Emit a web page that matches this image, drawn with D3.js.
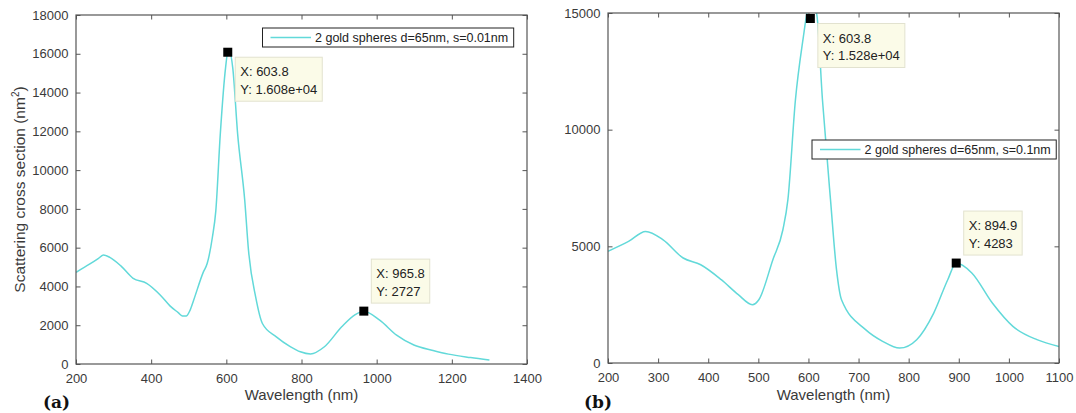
<!DOCTYPE html>
<html>
    <head>
        <meta charset="utf-8" />
        <title>Scattering cross section</title>
        <script src="https://d3js.org/d3.v7.min.js"></script>
        <style>
            body {
                margin: 0px;
                background: white;
            }
            text {
                font-family: "Liberation Sans", Arial, sans-serif;
            }
        </style>
    </head>
    <body>
        <svg id="chart"></svg>
        <script>

        // panel (a): s = 0.01nm
        var wavelengthA = [200, 237, 260, 273, 290, 320, 352, 388, 424, 450, 472, 483, 493, 503, 513, 539, 549, 563, 572, 584, 598, 604, 610, 617, 630, 649, 659, 678, 696, 733, 770, 797, 824, 861, 907, 943, 966, 1008, 1053, 1099, 1150, 1191, 1250, 1300];
        var scatterA = [4730, 5160, 5450, 5620, 5500, 5050, 4420, 4160, 3560, 3000, 2650, 2480, 2470, 2750, 3290, 4750, 5180, 6550, 7900, 11880, 15290, 16080, 16050, 15290, 11880, 8430, 5860, 3460, 2090, 1400, 900, 630, 520, 890, 1920, 2550, 2727, 2260, 1490, 980, 700, 510, 330, 200];
        var xTicksA = [200, 400, 600, 800, 1000, 1200, 1400];
        var yTicksA = [0, 2000, 4000, 6000, 8000, 10000, 12000, 14000, 16000, 18000];
        var tipWlA = [603.8, 965.8];
        var tipValA = [16080, 2727];
        var tipTextA = [["X: 603.8", "Y: 1.608e+04"], ["X: 965.8", "Y: 2727"]];
        var tipSideA = ["below", "above"];

        // panel (b): s = 0.1nm
        var wavelengthB = [200, 241, 275, 310, 350, 385, 426, 460, 488, 501, 529, 549, 559, 574, 590, 597, 601, 606, 616, 628, 644, 656, 666, 714, 748, 782, 816, 850, 878, 895, 926, 967, 1008, 1056, 1100];
        var scatterB = [4790, 5210, 5640, 5280, 4500, 4210, 3570, 2930, 2500, 2710, 4430, 5710, 7000, 11270, 14000, 15000, 15350, 15300, 15000, 11270, 7000, 4000, 2710, 1430, 930, 640, 1000, 2140, 3570, 4283, 3860, 2570, 1570, 1000, 710];
        var xTicksB = [200, 300, 400, 500, 600, 700, 800, 900, 1000, 1100];
        var yTicksB = [0, 5000, 10000, 15000];
        var tipWlB = [603.8, 894.9];
        var tipValB = [15280, 4283];
        var tipTextB = [["X: 603.8", "Y: 1.528e+04"], ["X: 894.9", "Y: 4283"]];
        var tipSideB = ["below", "above"];

        var width = 1076;
        var height = 413;
        var lineColor = "#62d9d9";
        var axisColor = "#555";
        var textColor = "#3a3a3a";
        var tickLen = 4.5;

        var svg = d3.select("#chart")
            .attr("width", width)
            .attr("height", height);

        svg.append("rect")
            .attr("width", width)
            .attr("height", height)
            .attr("fill", "white");

        function styleAxis(sel) {
            sel.select(".domain").remove();
            sel.selectAll(".tick line").attr("stroke", axisColor);
            sel.selectAll(".tick text")
                .attr("fill", textColor)
                .attr("font-size", 13)
                .attr("font-family", "Liberation Sans, Arial, sans-serif");
        }

        function drawPanel(p) {
            var g = svg.append("g");

            var x = d3.scaleLinear()
                .domain(p.xDomain)
                .range([p.left, p.right]);

            var y = d3.scaleLinear()
                .domain(p.yDomain)
                .range([p.bottom, p.top]);

            svg.append("clipPath")
                .attr("id", "clip-" + p.id)
                .append("rect")
                .attr("x", p.left)
                .attr("y", p.top)
                .attr("width", p.right - p.left)
                .attr("height", p.bottom - p.top);

            // axes, ticks pointing inward on all four sides
            g.append("g")
                .attr("transform", "translate(0," + p.bottom + ")")
                .call(d3.axisBottom(x).tickValues(p.xTicks).tickSizeInner(-tickLen).tickSizeOuter(0)
                    .tickPadding(10).tickFormat(d3.format("d")))
                .call(styleAxis);

            g.append("g")
                .attr("transform", "translate(0," + p.top + ")")
                .call(d3.axisTop(x).tickValues(p.xTicks).tickSizeInner(-tickLen).tickSizeOuter(0)
                    .tickFormat(""))
                .call(styleAxis);

            g.append("g")
                .attr("transform", "translate(" + p.left + ",0)")
                .call(d3.axisLeft(y).tickValues(p.yTicks).tickSizeInner(-tickLen).tickSizeOuter(0)
                    .tickPadding(7.5).tickFormat(d3.format("d")))
                .call(styleAxis);

            g.append("g")
                .attr("transform", "translate(" + p.right + ",0)")
                .call(d3.axisRight(y).tickValues(p.yTicks).tickSizeInner(-tickLen).tickSizeOuter(0)
                    .tickFormat(""))
                .call(styleAxis);

            // curve
            var points = p.wl.map(function(w, i) {
                return [w, p.val[i]];
            });

            var line = d3.line()
                .x(function(d) { return x(d[0]); })
                .y(function(d) { return y(d[1]); })
                .curve(d3.curveMonotoneX);

            g.append("path")
                .datum(points)
                .attr("clip-path", "url(#clip-" + p.id + ")")
                .attr("d", line)
                .attr("fill", "none")
                .attr("stroke", lineColor)
                .attr("stroke-width", 1.5);

            // frame
            g.append("rect")
                .attr("x", p.left)
                .attr("y", p.top)
                .attr("width", p.right - p.left)
                .attr("height", p.bottom - p.top)
                .attr("fill", "none")
                .attr("stroke", axisColor)
                .attr("stroke-width", 1.2);

            // x label + panel letter
            g.append("text")
                .attr("x", (p.left + p.right) / 2)
                .attr("y", 400)
                .attr("text-anchor", "middle")
                .attr("font-size", 15)
                .attr("fill", textColor)
                .text("Wavelength (nm)");

            g.append("text")
                .attr("x", p.letterX)
                .attr("y", 408)
                .attr("font-weight", "bold")
                .attr("font-size", 17)
                .attr("fill", "#111")
                .style("font-family", "DejaVu Serif, serif")
                .text(p.letter);

            // legend
            var leg = g.append("g");
            var legRect = leg.append("rect")
                .attr("x", p.legX)
                .attr("y", p.legY)
                .attr("height", 19)
                .attr("fill", "white")
                .attr("stroke", "#222")
                .attr("stroke-width", 1);
            leg.append("line")
                .attr("x1", p.legX + 8)
                .attr("x2", p.legX + 48.5)
                .attr("y1", p.legY + 9.5)
                .attr("y2", p.legY + 9.5)
                .attr("stroke", lineColor)
                .attr("stroke-width", 1.5);
            var legText = leg.append("text")
                .attr("x", p.legX + 52.5)
                .attr("y", p.legY + 14)
                .attr("font-size", 12.5)
                .attr("fill", "#222")
                .text(p.legend);
            legRect.attr("width", legText.node().getComputedTextLength() + 58);

            // data tips
            var markerSize = 9;
            p.tipWl.forEach(function(w, i) {
                var mx = x(w);
                var my = Math.max(y(p.tipVal[i]), p.top + markerSize / 2 + 1);

                var tip = g.append("g");
                var box = tip.append("rect")
                    .attr("fill", "#fbfbe8")
                    .attr("stroke", "#e2e2cf")
                    .attr("stroke-width", 1);

                var boxTop = p.tipSide[i] === "below" ? my + 5 : my - 8 - 44;
                var boxLeft = mx + 7.5;
                var maxLen = 0;
                p.tipText[i].forEach(function(t, j) {
                    var tx = tip.append("text")
                        .attr("x", boxLeft + 5)
                        .attr("y", boxTop + 19 + j * 17.5)
                        .attr("font-size", 13)
                        .attr("fill", "#222")
                        .text(t);
                    maxLen = Math.max(maxLen, tx.node().getComputedTextLength());
                });
                box.attr("x", boxLeft)
                    .attr("y", boxTop)
                    .attr("width", maxLen + 10)
                    .attr("height", 44);

                g.append("rect")
                    .attr("x", mx - markerSize / 2)
                    .attr("y", my - markerSize / 2)
                    .attr("width", markerSize)
                    .attr("height", markerSize)
                    .attr("fill", "black");
            });
        }

        drawPanel({
            id: "a", left: 76, right: 527, top: 15, bottom: 364,
            xDomain: [200, 1400], yDomain: [0, 18000],
            xTicks: xTicksA, yTicks: yTicksA,
            wl: wavelengthA, val: scatterA,
            tipWl: tipWlA, tipVal: tipValA, tipText: tipTextA, tipSide: tipSideA,
            legend: "2 gold spheres d=65nm, s=0.01nm", legX: 262.5, legY: 28,
            letter: "(a)", letterX: 43
        });

        drawPanel({
            id: "b", left: 608, right: 1059, top: 13, bottom: 363,
            xDomain: [200, 1100], yDomain: [0, 15000],
            xTicks: xTicksB, yTicks: yTicksB,
            wl: wavelengthB, val: scatterB,
            tipWl: tipWlB, tipVal: tipValB, tipText: tipTextB, tipSide: tipSideB,
            legend: "2 gold spheres d=65nm, s=0.1nm", legX: 812, legY: 140,
            letter: "(b)", letterX: 584
        });

        // y label (left panel only)
        var yLabel = svg.append("text")
            .attr("transform", "translate(25,189.5) rotate(-90)")
            .attr("text-anchor", "middle")
            .attr("font-size", 15.5)
            .attr("fill", textColor);
        yLabel.append("tspan").text("Scattering cross section (nm");
        yLabel.append("tspan").attr("dy", -6).attr("font-size", 10).text("2");
        yLabel.append("tspan").attr("dy", 6).text(")");

        </script>
    </body>
</html>
